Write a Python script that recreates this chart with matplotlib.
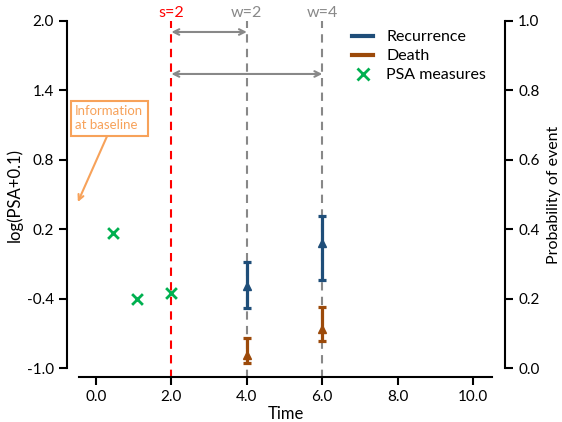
import matplotlib
matplotlib.use("Agg")
import matplotlib.pyplot as plt
from matplotlib.lines import Line2D

# Data
psa_time = [0.45, 1.1, 2.0]
psa_value = [0.17, -0.40, -0.35]

times = [4.0, 6.0]
rec_est = [0.236, 0.359]
rec_low = [0.174, 0.254]
rec_high = [0.306, 0.439]
death_est = [0.037, 0.112]
death_low = [0.015, 0.078]
death_high = [0.087, 0.177]

xticks = [0, 2, 4, 6, 8, 10]
yticks_left = [-1.0, -0.4, 0.2, 0.8, 1.4, 2.0]
yticks_right = [0.0, 0.2, 0.4, 0.6, 0.8, 1.0]

landmark = 2.0
horizons = [4.0, 6.0]
window_labels = ["w=2", "w=4"]

blue = "#1F4E79"
brown = "#9C4A0A"
green = "#00B050"
gray = "#888888"
orange = "#F7A25A"

plt.rcParams['font.family'] = ['Lato', 'DejaVu Sans']

fig = plt.figure(figsize=(5.62, 4.22), dpi=100)
ax = fig.add_axes([79/562, 1-368/422, 413/562, 347/422])
ax.set_xlim(-0.45, 10.5)
ax.set_ylim(-1.0, 2.0)

ax2 = ax.twinx()
ax2.set_ylim(0, 1)

for a in (ax, ax2):
    a.spines['top'].set_visible(False)
ax.spines['right'].set_visible(False)
ax2.spines['left'].set_visible(False)
ax2.spines['bottom'].set_visible(False)
ax.spines['left'].set_position(('outward', 8.6))
ax.spines['bottom'].set_position(('outward', 6.5))
ax2.spines['right'].set_position(('outward', 9.4))
for s in [ax.spines['left'], ax.spines['bottom'], ax2.spines['right']]:
    s.set_linewidth(1.5)

ax.set_xticks(xticks)
ax.set_xticklabels([f"{v:.1f}" for v in xticks])
ax.set_yticks(yticks_left)
ax.set_yticklabels([f"{v:.1f}" for v in yticks_left])
ax2.set_yticks(yticks_right)
ax2.set_yticklabels([f"{v:.1f}" for v in yticks_right])
ax.tick_params(width=1.5, length=6, labelsize=11)
ax2.tick_params(width=1.5, length=6, labelsize=11)

ax.set_xlabel("Time", fontsize=12, labelpad=1)
ax.set_ylabel("log(PSA+0.1)", fontsize=12, labelpad=3)
ax2.set_ylabel("Probability of event", fontsize=11.5, labelpad=5)

# vertical lines
ax.axvline(landmark, ymin=-0.03, ymax=1.0, color='red', ls=(0, (4, 3)), lw=1.5, clip_on=False)
for h in horizons:
    ax.axvline(h, ymin=-0.03, ymax=1.0, color=gray, ls=(0, (4, 3)), lw=1.5, clip_on=False)

ax.text(landmark, 2.065, "s=2", color='red', ha='center', va='center', fontsize=11.5)
for h, lab in zip(horizons, window_labels):
    ax.text(h, 2.065, lab, color=gray, ha='center', va='center', fontsize=11.5)

arrow_y = [1.905, 1.542]
for h, yy in zip(horizons, arrow_y):
    ax.annotate("", xy=(h, yy), xytext=(landmark, yy),
                arrowprops=dict(arrowstyle='<->', color=gray, lw=1.5,
                                shrinkA=0, shrinkB=0))

ax.annotate("Information\nat baseline", xy=(-0.48, 0.435), xytext=(-0.55, 1.16),
            color=orange, fontsize=9.5, ha='left', va='center', annotation_clip=False,
            bbox=dict(boxstyle='square,pad=0.35', fc='white', ec=orange, lw=1.5),
            arrowprops=dict(arrowstyle='->', color=orange, lw=1.5,
                            relpos=(0.5, 0.0), shrinkA=0, shrinkB=0))

# PSA
ax.scatter(psa_time, psa_value, marker='x', s=60, color=green, linewidths=2,
           zorder=5, clip_on=False)

# error bars
def eb(est, lo, hi, col):
    yerr = [[e - l for e, l in zip(est, lo)], [h - e for e, h in zip(est, hi)]]
    ax2.errorbar(times, est, yerr=yerr, fmt='^', color=col, ms=5.5, elinewidth=2.3,
                 capsize=2.9, capthick=2.3, zorder=5, clip_on=False)

eb(rec_est, rec_low, rec_high, blue)
eb(death_est, death_low, death_high, brown)

handles = [Line2D([], [], color=blue, lw=3),
           Line2D([], [], color=brown, lw=3),
           Line2D([], [], color=green, marker='x', ls='none', ms=9, mew=2)]
ax2.legend(handles, ["Recurrence", "Death", "PSA measures"], loc='upper right',
           bbox_to_anchor=(1.02, 1.015), frameon=False, fontsize=11.5,
           handlelength=1.3, handletextpad=0.8, labelspacing=0.3)

fig.savefig("out.png", dpi=100)
